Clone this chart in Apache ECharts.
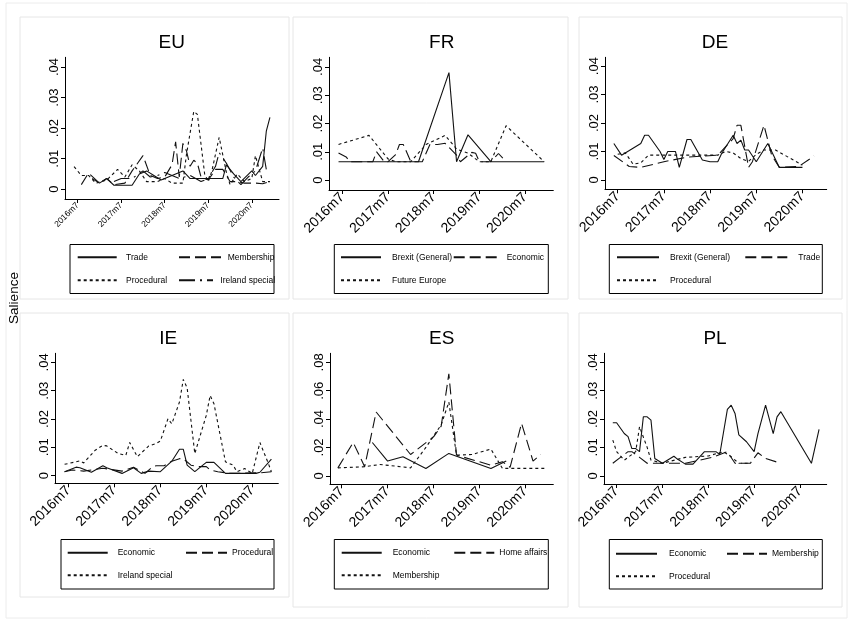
<!DOCTYPE html>
<html><head><meta charset="utf-8">
<script src="https://cdn.jsdelivr.net/npm/echarts@6/dist/echarts.min.js"></script>
<style>html,body{margin:0;padding:0;background:#fff}#c{width:848px;height:621px}</style>
</head><body><div id="c"></div>
<script>
// ---------- tick labels ----------
const xTickMonths = ["2016m7","2017m7","2018m7","2019m7","2020m7"];
const yTicksSmall = [0, 0.01, 0.02, 0.03, 0.04];
const yTicksLarge = [0, 0.02, 0.04, 0.06, 0.08];
const panelTitles = ["EU","FR","DE","IE","ES","PL"];
const yAxisTitle = "Salience";

// ---------- EU ----------
const EU_names = ["Trade","Membership","Procedural","Ireland special"];
const EU_trade = [["2016m11",.0035],["2017m1",.002],["2017m3",.0035],["2017m5",.0013],["2017m10",.0013],["2017m12",.005],["2018m2",.006],["2018m4",.0045],["2018m6",.003],["2018m8",.004],["2018m10",.005],["2018m12",.006],["2019m2",.0035],["2019m11",.0035],["2019m12",.008],["2020m2",.005],["2020m4",.0025],["2020m7",.006],["2020m8",.0045],["2020m10",.0075],["2020m11",.019],["2020m12",.0235]];
const EU_membership = [["2016m8",.0015],["2016m10",.0053],["2017m1",.002],["2017m3",.0035],["2017m5",.0015],["2017m8",.002],["2017m10",.006],["2018m1",.011],["2018m3",.0045],["2018m5",.0035],["2018m7",.004],["2018m9",.008],["2018m10",.0155],["2018m11",.004],["2018m12",.015],["2019m1",.0125],["2019m2",.0075],["2019m3",.0095],["2019m4",.0085],["2019m5",.004],["2019m7",.003],["2019m9",.0065],["2019m11",.0065],["2020m1",.0025],["2020m3",.0025],["2020m5",.002],["2020m8",.002],["2020m10",.0018],["2020m12",.0025]];
const EU_procedural = [["2016m6",.0074],["2016m8",.0045],["2016m10",.0045],["2016m12",.002],["2017m3",.003],["2017m6",.0065],["2017m8",.004],["2017m10",.008],["2017m12",.006],["2018m2",.0025],["2018m5",.0025],["2018m7",.0035],["2018m9",.002],["2018m12",.002],["2019m1",.0115],["2019m3",.0255],["2019m4",.0245],["2019m6",.005],["2019m7",.0025],["2019m8",.006],["2019m10",.017],["2019m12",.0055],["2020m1",.0015],["2020m3",.005],["2020m5",.0025],["2020m7",.0035],["2020m8",.011],["2020m10",.0025],["2020m12",.0025]];
const EU_ireland = [["2017m5",.0025],["2017m7",.0035],["2017m10",.0035],["2018m1",.006],["2018m3",.004],["2018m5",.0045],["2018m7",.0055],["2018m9",.0045],["2018m11",.0035],["2019m2",.0045],["2019m5",.0025],["2019m7",.0035],["2019m9",.0075],["2019m10",.012],["2019m12",.0085],["2020m2",.004],["2020m4",.0015],["2020m6",.004],["2020m8",.006],["2020m10",.0135],["2020m11",.0065]];

// ---------- FR ----------
const FR_names = ["Brexit (General)","Economic","Future Europe"];
const FR_brexit = [["2016m6",.0065],["2018m3",.0065],["2018m11",.038],["2019m1",.0065],["2019m4",.016],["2019m10",.0065],["2020m12",.0065]];
const FR_economic = [["2016m6",.0096],["2016m8",.0082],["2016m9",.0065],["2017m3",.0065],["2017m4",.01],["2017m6",.0065],["2017m7",.0065],["2017m9",.009],["2017m10",.0126],["2017m11",.0126],["2018m1",.0065],["2018m4",.0065],["2018m6",.0126],["2018m8",.0126],["2018m10",.013],["2019m1",.0088],["2019m2",.0065],["2019m5",.0098],["2019m6",.0095],["2019m7",.0065],["2019m10",.0065],["2019m12",.0094],["2020m2",.0065]];
const FR_future = [["2016m6",.0126],["2017m2",.0158],["2017m7",.0075],["2017m9",.0065],["2018m1",.0065],["2018m5",.0126],["2018m10",.0158],["2019m1",.011],["2019m4",.0095],["2019m7",.0065],["2019m10",.0065],["2020m2",.0192],["2020m12",.0065]];

// ---------- DE ----------
const DE_names = ["Brexit (General)","Trade","Procedural"];
const DE_brexit = [["2016m6",.0128],["2016m8",.0087],["2017m1",.0128],["2017m2",.0157],["2017m3",.0157],["2017m6",.01],["2017m7",.0072],["2017m8",.01],["2017m10",.01],["2017m11",.0044],["2018m1",.0142],["2018m2",.0142],["2018m5",.007],["2018m7",.0064],["2018m9",.0064],["2018m10",.0093],["2019m1",.0157],["2019m2",.0128],["2019m3",.014],["2019m4",.0105],["2019m5",.0105],["2019m7",.0064],["2019m10",.0128],["2020m1",.0044],["2020m7",.0044]];
const DE_trade = [["2016m6",.0086],["2016m10",.0047],["2017m1",.0044],["2017m7",.0064],["2018m1",.008],["2018m9",.0087],["2019m1",.0145],["2019m2",.0192],["2019m3",.0192],["2019m5",.0044],["2019m6",.0064],["2019m9",.0192],["2019m11",.0087],["2020m1",.0044],["2020m6",.0047],["2020m10",.0084]];
const DE_procedural = [["2016m7",.009],["2016m9",.0095],["2016m11",.0055],["2017m1",.006],["2017m3",.0087],["2018m9",.0087],["2018m11",.01],["2019m1",.0095],["2019m3",.0075],["2019m5",.0065],["2019m7",.009],["2019m9",.0105],["2019m12",.0105],["2020m7",.0052]];

// ---------- IE ----------
const IE_names = ["Economic","Procedural","Ireland special"];
const IE_economic = [["2016m6",.0014],["2016m9",.003],["2016m10",.0028],["2017m1",.0012],["2017m4",.0035],["2017m5",.0028],["2017m9",.0008],["2017m12",.0028],["2018m2",.0008],["2018m4",.0016],["2018m7",.0014],["2018m10",.0051],["2018m12",.0093],["2019m1",.0093],["2019m2",.0037],["2019m4",.0014],["2019m7",.0047],["2019m9",.0047],["2019m12",.0008],["2020m8",.0008],["2020m9",.0012],["2020m12",.0058]];
const IE_procedural = [["2016m6",.0014],["2016m8",.002],["2016m11",.0016],["2017m4",.0026],["2017m9",.0016],["2017m12",.003],["2018m3",.0008],["2018m5",.0032],["2018m6",.0035],["2018m8",.0035],["2018m10",.0051],["2018m12",.006],["2019m1",.006],["2019m3",.0037],["2019m5",.0032],["2019m7",.0032],["2019m8",.002],["2019m10",.0014],["2020m1",.0008],["2020m9",.001],["2020m12",.0014]];
const IE_ireland = [["2016m6",.004],["2016m10",.0052],["2016m11",.0045],["2017m2",.009],["2017m4",.0107],["2017m5",.0105],["2017m8",.0078],["2017m10",.0072],["2017m11",.0117],["2018m1",.0067],["2018m4",.0105],["2018m6",.0114],["2018m7",.0122],["2018m9",.0201],["2018m10",.0183],["2018m12",.026],["2019m1",.034],["2019m2",.031],["2019m4",.0078],["2019m7",.0213],["2019m8",.0283],["2019m9",.0254],["2019m12",.0049],["2020m2",.0037],["2020m3",.0014],["2020m5",.0025],["2020m7",.0008],["2020m9",.0117],["2020m11",.005],["2020m12",.0014]];

// ---------- ES ----------
const ES_names = ["Economic","Home affairs","Membership"];
const ES_economic = [["2017m3",.0235],["2017m7",.0104],["2017m11",.0134],["2018m5",.0052],["2018m11",.0158],["2019m10",.0052],["2020m2",.0104]];
const ES_home = [["2016m6",.0056],["2016m10",.0235],["2017m1",.0064],["2017m4",.045],["2018m1",.015],["2018m7",.0275],["2018m9",.035],["2018m11",.072],["2019m1",.0146],["2019m10",.0075],["2020m1",.0099],["2020m3",.006],["2020m6",.037],["2020m9",.0104],["2020m11",.015]];
const ES_membership = [["2016m6",.0056],["2017m1",.0064],["2017m5",.008],["2018m1",.0056],["2018m5",.02],["2018m9",.036],["2018m11",.052],["2019m1",.0146],["2019m5",.015],["2019m10",.0188],["2020m1",.0052],["2020m12",.0052]];

// ---------- PL ----------
const PL_names = ["Economic","Membership","Procedural"];
const PL_economic = [["2016m6",.0187],["2016m7",.0187],["2016m9",.0149],["2016m10",.0138],["2016m11",.0096],["2016m12",.0096],["2017m1",.0085],["2017m2",.0208],["2017m3",.0208],["2017m4",.0196],["2017m5",.0061],["2017m7",.0044],["2017m10",.0069],["2017m11",.0058],["2018m1",.0041],["2018m3",.0041],["2018m6",.0085],["2018m9",.0085],["2018m10",.0075],["2018m12",.0234],["2019m1",.0249],["2019m2",.022],["2019m3",.0144],["2019m5",.012],["2019m7",.0085],["2019m8",.0149],["2019m10",.0249],["2019m12",.0149],["2020m1",.0208],["2020m2",.0226],["2020m10",.0044],["2020m12",.0164]];
const PL_membership = [["2016m6",.0044],["2016m8",.0065],["2016m10",.0085],["2016m11",.0085],["2017m1",.0065],["2017m3",.0044],["2018m1",.0044],["2018m8",.0065],["2018m12",.0085],["2019m2",.0044],["2019m6",.0044],["2019m8",.0081],["2019m10",.0061],["2020m2",.0044]];
const PL_procedural = [["2016m6",.0126],["2016m7",.0085],["2016m9",.0055],["2016m12",.0085],["2017m1",.0173],["2017m3",.01],["2017m4",.0055],["2017m7",.0044],["2018m1",.0065],["2018m7",.007],["2018m11",.0085],["2019m1",.0067],["2019m3",.0044],["2019m6",.0044]];

// ---------- styles ----------
const DASH = {solid:'solid', long:[11,5], short:[3,3], longdot:[16,5,2,5]};

const panelSeries = [
  [[EU_names[0],EU_trade,'solid'],[EU_names[1],EU_membership,'long'],[EU_names[2],EU_procedural,'short'],[EU_names[3],EU_ireland,'longdot']],
  [[FR_names[0],FR_brexit,'solid'],[FR_names[1],FR_economic,'long'],[FR_names[2],FR_future,'short']],
  [[DE_names[0],DE_brexit,'solid'],[DE_names[1],DE_trade,'long'],[DE_names[2],DE_procedural,'short']],
  [[IE_names[0],IE_economic,'solid'],[IE_names[1],IE_procedural,'long'],[IE_names[2],IE_ireland,'short']],
  [[ES_names[0],ES_economic,'solid'],[ES_names[1],ES_home,'long'],[ES_names[2],ES_membership,'short']],
  [[PL_names[0],PL_economic,'solid'],[PL_names[1],PL_membership,'long'],[PL_names[2],PL_procedural,'short']]
];

// layout per panel; legend keys: [left, top, iconWidth, textOffset]
const layout = [
  {grid:[65,57.3,214,141.7], x:[-3.5,55.5], y:[-0.0032,0.0432], yt:yTicksSmall, xf:8.5, yf:13, title:[171.7,43], box:[70,244.5,204,49], border:[20,17,269,282],
   keys:[[76.7,252.7,39,48.3],[178,252.7,42,48.7],[76.7,275.7,39,48.3],[178,275.7,34,41.3]]},
  {grid:[329,57.3,224.3,132.7], x:[-3.5,55.4], y:[-0.0035,0.0434], yt:yTicksSmall, xf:14, yf:13, title:[441.7,43], box:[334.3,244.5,214,49], border:[293,17,275,282],
   keys:[[340,252.7,40,51],[452.7,252.7,48,52.3],[340,275.7,40,51]]},
  {grid:[605,57.3,221.7,132], x:[-3.3,54.3], y:[-0.0033,0.0431], yt:yTicksSmall, xf:14, yf:13, title:[715,43], box:[609.3,244.5,213,49], border:[579,17,263,282],
   keys:[[616,252.7,42,53],[744.3,252.7,42,53],[616,275.7,42,53]]},
  {grid:[55,353.3,223.3,130], x:[-3.5,54.8], y:[-0.0027,0.0432], yt:yTicksSmall, xf:14, yf:13, title:[168.3,339], box:[61,539.5,213,49.5], border:[20,313,269,284],
   keys:[[66.7,548.3,40,50],[185,548.3,41,43.7],[66.7,570.7,40,50]]},
  {grid:[330,353.3,223.3,131], x:[-3.06,55.3], y:[-0.006,0.0864], yt:yTicksLarge, xf:14, yf:13, title:[441.7,339], box:[334.3,539.5,214,49.5], border:[293,313,275,294],
   keys:[[340.7,548.3,40,51],[453.3,548.3,40,42.7],[340.7,570.7,40,51]]},
  {grid:[604,353.3,222.7,130.7], x:[-3.3,55], y:[-0.0029,0.0432], yt:yTicksSmall, xf:14, yf:13, title:[715,339], box:[609.3,539.5,213,49.5], border:[579,313,263,294],
   keys:[[615,549.3,41,53],[726,549.3,40,43],[615,571.7,41,53]]}
];

function monthIndex(s){ const p = s.split('m'); return (Number(p[0])-2016)*12 + (Number(p[1])-7); }
function monthLabel(v){ const y = 2016 + Math.floor((v+6)/12); const m = (((v+6)%12)+12)%12 + 1; return y + 'm' + m; }
const xTickValues = xTickMonths.map(monthIndex);
function yLabel(v){ if (Math.abs(v) < 1e-12) return '0'; return v.toFixed(2).replace(/^0/, ''); }

const FONT = '"Liberation Sans", Arial, Helvetica, sans-serif';

const grids = [], xAxes = [], yAxes = [], series = [], legends = [], graphics = [];

graphics.push({type:'rect', shape:{x:6,y:3,width:841,height:615}, style:{fill:null, stroke:'#ececec', lineWidth:1}, silent:true, z:0});

layout.forEach((L, i) => {
  grids.push({left:L.grid[0], top:L.grid[1], width:L.grid[2], height:L.grid[3], containLabel:false});
  xAxes.push({
    type:'value', gridIndex:i, min:L.x[0], max:L.x[1],
    axisLine:{show:true, onZero:false, lineStyle:{color:'#000', width:1}},
    axisTick:{show:true, customValues:xTickValues, length:4, lineStyle:{color:'#000'}},
    axisLabel:{customValues:xTickValues, formatter:monthLabel, rotate:45, fontSize:L.xf, color:'#000', fontFamily:FONT, margin:5},
    splitLine:{show:false}
  });
  yAxes.push({
    type:'value', gridIndex:i, min:L.y[0], max:L.y[1],
    axisLine:{show:true, onZero:false, lineStyle:{color:'#000', width:1}},
    axisTick:{show:true, customValues:L.yt, length:4, lineStyle:{color:'#000'}},
    axisLabel:{customValues:L.yt, formatter:yLabel, rotate:90, fontSize:L.yf, color:'#000', fontFamily:FONT, margin:4},
    splitLine:{show:false}
  });
  const items = panelSeries[i];
  items.forEach(([name, data, dash], k) => {
    const sname = panelTitles[i] + '|' + name;
    series.push({
      type:'line', name: sname, xAxisIndex:i, yAxisIndex:i,
      data: data.map(d => [monthIndex(d[0]), d[1]]),
      symbol:'none', showSymbol:false, animation:false, silent:true,
      itemStyle:{color:'#111'},
      lineStyle:{color:'#111', width:1.1, type:DASH[dash]}
    });
    const key = L.keys[k];
    legends.push({
      data:[sname], orient:'vertical', left:key[0], top:key[1], padding:0,
      itemWidth:key[2], itemHeight:10, selectedMode:false,
      itemStyle:{opacity:0},
      formatter: n => n.split('|')[1],
      textStyle:{fontSize:8.5, color:'#000', fontFamily:FONT, padding:[0,0,0,Math.max(0, key[3]-key[2]-5)]}
    });
  });
  graphics.push({type:'rect', shape:{x:L.border[0], y:L.border[1], width:L.border[2], height:L.border[3]}, style:{fill:null, stroke:'#e6e6e6', lineWidth:1}, silent:true, z:0});
  graphics.push({type:'rect', shape:{x:L.box[0], y:L.box[1], width:L.box[2], height:L.box[3]}, style:{fill:null, stroke:'#000', lineWidth:1}, silent:true});
  graphics.push({type:'text', x:L.title[0], y:L.title[1], style:{text:panelTitles[i], fontSize:19, fontFamily:FONT, fill:'#000', textAlign:'center', textVerticalAlign:'middle', verticalAlign:'middle'}, silent:true});
});

graphics.push({type:'text', x:14, y:298, rotation:Math.PI/2, style:{text:yAxisTitle, fontSize:13.5, fontFamily:FONT, fill:'#000', textAlign:'center', textVerticalAlign:'middle', verticalAlign:'middle'}, silent:true});

const chart = echarts.init(document.getElementById('c'), null, {renderer:'canvas'});
chart.setOption({
  animation:false, backgroundColor:'#fff',
  grid:grids, xAxis:xAxes, yAxis:yAxes, series:series, legend:legends, graphic:graphics
});
</script></body></html>
